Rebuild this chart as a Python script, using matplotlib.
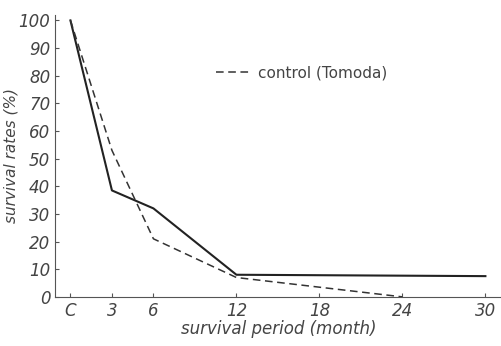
import matplotlib.pyplot as plt

months = [0, 3, 6, 12, 30]
survival = [100, 38.5, 32, 8, 7.5]

ctrl_months = [0, 3, 6, 12, 24]
ctrl_survival = [100, 53, 21, 7, 0]

xticks = [0, 3, 6, 12, 18, 24, 30]
xlabels = ['C', '3', '6', '12', '18', '24', '30']
yticks = list(range(0, 101, 10))

fig = plt.figure(figsize=(5.02, 3.46), dpi=100)
ax = fig.add_axes([0.11, 0.142, 0.89, 0.815])

ax.plot(months, survival, color='#222222', lw=1.5)
ax.plot(ctrl_months, ctrl_survival, color='#333333', lw=1.1, ls=(0, (5, 3)),
        label='control (Tomoda)')

ax.set_xlim(-1.1, 31.2)
ax.set_ylim(0, 102)
ax.set_xticks(xticks)
ax.set_xticklabels(xlabels)
ax.set_yticks(yticks)
for s in ['top', 'right']:
    ax.spines[s].set_visible(False)
ax.spines['left'].set_color('#555555')
ax.spines['bottom'].set_color('#555555')
ax.tick_params(direction='in', length=3, colors='#555555', labelsize=12,
               labelcolor='#444444')
for lab in ax.get_xticklabels() + ax.get_yticklabels():
    lab.set_style('italic')

ax.set_xlabel('survival period (month)', fontsize=12, style='italic',
              color='#444444', labelpad=0)
ax.set_ylabel('survival rates (%)', fontsize=11, style='italic',
              color='#444444', labelpad=0)

ax.legend(loc='upper left', bbox_to_anchor=(0.33, 0.87), frameon=False,
          fontsize=11, handlelength=2.2, handletextpad=0.5, labelcolor='#444444')

fig.savefig('out.png', dpi=100)
